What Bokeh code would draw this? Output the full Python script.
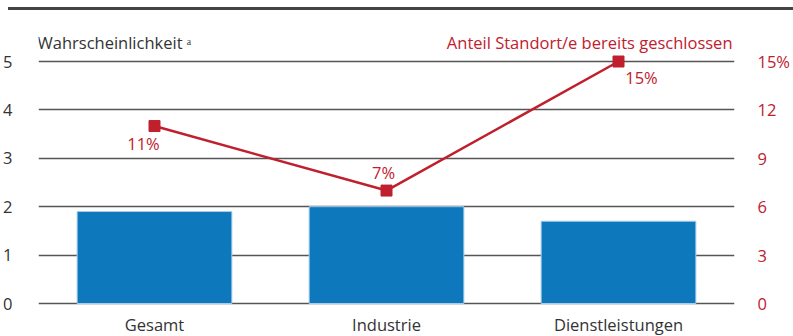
from bokeh.plotting import figure
from bokeh.layouts import column
from bokeh.models import (FactorRange, Range1d, LinearAxis, FixedTicker, ColumnDataSource,
                          CustomJSTickFormatter, Div)
from bokeh.core.properties import value
from bokeh.embed import file_html
from bokeh.resources import INLINE

categories = ["Gesamt", "Industrie", "Dienstleistungen"]
probability = [1.9, 2.0, 1.7]
share_closed = [11, 7, 15]
share_labels = ["11%", "7%", "15%"]
left_ticks = [0, 1, 2, 3, 4, 5]
right_ticks = [0, 3, 6, 9, 12, 15]

FONT = "Open Sans"
FS = "16.5px"
RED = "#c0202e"
BLUE = "#0e78bd"
TXT = "#333333"

TOP = 12                      # height of the header strip holding the rule
PX = 48.4                     # pixels per unit on the left scale
y_top = (303 - TOP) / PX
y_bot = -(336 - 303) / PX

p = figure(width=793, height=336 - TOP, x_range=FactorRange(*categories, range_padding=0),
           y_range=Range1d(y_bot, y_top), output_backend="svg", toolbar_location=None,
           min_border_left=37, min_border_right=53, min_border_top=0, min_border_bottom=0,
           y_axis_location="left")
p.extra_y_ranges = {"share": Range1d(3 * y_bot, 3 * y_top)}
p.outline_line_color = None
p.background_fill_color = None
p.border_fill_color = "white"
p.xaxis.visible = False

src = ColumnDataSource(dict(cat=categories, prob=probability, share=share_closed, lab=share_labels))

p.vbar(x="cat", top="prob", width=0.667, source=src, fill_color=BLUE, line_color="#a9cce9", line_width=1)

p.line(x="cat", y="share", source=src, y_range_name="share", line_color=RED, line_width=2.5)
p.scatter(x="cat", y="share", source=src, y_range_name="share", marker="square", size=11,
          fill_color=RED, line_color=RED)

offs_x = [-11, -3, 23]
offs_y = [17, -18, 16]
for i in range(3):
    p.text(x=[categories[i]], y=[share_closed[i]], text=[share_labels[i]], y_range_name="share",
           x_offset=offs_x[i], y_offset=offs_y[i], text_align="center", text_baseline="middle",
           text_font=value(FONT), text_font_size=FS, text_color=RED)

# category labels (x axis)
p.text(x=categories, y=[0] * len(categories), text=categories,
       y_offset=21, text_align="center", text_baseline="middle",
       text_font=value(FONT), text_font_size=FS, text_color=TXT)

p.text(x=["Gesamt"], y=[(303 - 42) / PX], text=["Wahrscheinlichkeit ᵃ"], x_offset=-117,
       text_align="left", text_baseline="middle", text_font=value(FONT), text_font_size=FS,
       text_color=TXT)
p.text(x=["Dienstleistungen"], y=[(303 - 42) / PX], text=["Anteil Standort/e bereits geschlossen"],
       x_offset=114, text_align="right", text_baseline="middle", text_font=value(FONT),
       text_font_size=FS, text_color=RED)

# left axis
ya = p.yaxis[0]
ya.ticker = FixedTicker(ticks=left_ticks)
ya.axis_line_color = None
ya.major_tick_line_color = None
ya.minor_tick_line_color = None
ya.major_label_standoff = 20
ya.major_label_text_font = FONT
ya.major_label_text_font_size = FS
ya.major_label_text_color = TXT

ra = LinearAxis(y_range_name="share", ticker=FixedTicker(ticks=right_ticks),
                formatter=CustomJSTickFormatter(code="return tick == 15 ? '15%' : String(tick);"))
ra.axis_line_color = None
ra.major_tick_line_color = None
ra.minor_tick_line_color = None
ra.major_label_standoff = 17
ra.major_label_text_font = FONT
ra.major_label_text_font_size = FS
ra.major_label_text_color = RED
p.add_layout(ra, "right")

p.xgrid.grid_line_color = None
p.ygrid.ticker = FixedTicker(ticks=left_ticks)
p.ygrid.grid_line_color = "#555555"
p.ygrid.grid_line_width = 1.3

rule = Div(text='<div style="position:absolute;left:8px;top:7px;width:785px;height:2.5px;'
                'background:#444444;"></div>',
           width=793, height=TOP, margin=(0, 0, 0, 0), styles={"position": "relative"})

layout = column(rule, p, spacing=0, margin=(0, 0, 0, 0))
open("out.html", "w").write(file_html(layout, INLINE))
